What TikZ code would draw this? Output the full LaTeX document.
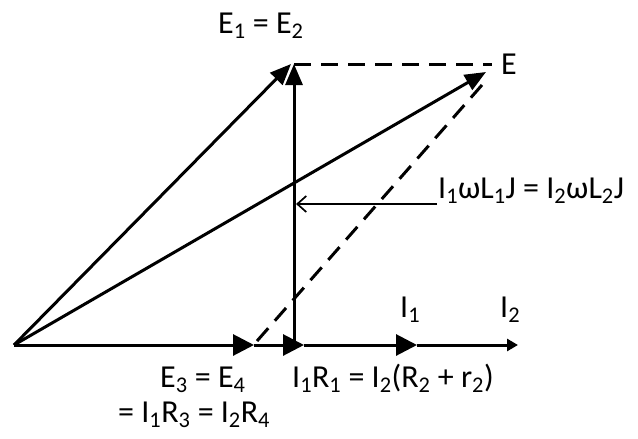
\documentclass[tikz,border=0pt]{standalone}
\usepackage{fontspec}
\setmainfont{Carlito}
\usetikzlibrary{arrows.meta}
\newcommand{\sbs}[1]{\textsubscript{#1}}
\begin{document}
\begin{tikzpicture}[x=1pt,y=-1pt,
  vec/.style={line width=3pt,-{Triangle[length=21pt,width=17pt]}},
  axseg/.style={line width=3pt,-{Triangle[length=21pt,width=21pt]}},
  dashln/.style={line width=3pt,dash pattern=on 17pt off 10pt},
  thin/.style={line width=1.7pt},
  lbl/.style={inner sep=0pt,font=\fontsize{32}{36}\selectfont}]
\useasboundingbox (0,0) rectangle (638,439);
\coordinate (O) at (14,345);
\coordinate (A) at (254,345);
\coordinate (B) at (304,345);
\coordinate (C) at (417,345);
\coordinate (D) at (518,345);
\coordinate (V0) at (294,345);
\coordinate (V1) at (294,64);
\coordinate (P) at (291,64);
\coordinate (Q) at (492,64);
\coordinate (Et) at (486,72);
\coordinate (Ds) at (257,341);
\coordinate (De) at (482,85);
\coordinate (Hs) at (437,204);
\coordinate (He) at (296,204);
% axis
\draw[axseg] (O) -- (A);
\draw[axseg] (A) -- (B);
\draw[axseg] (B) -- (C);
\draw[line width=3pt,-{Triangle[length=11pt,width=12pt]}] (C) -- (D);
% vertical
\draw[vec] (V0) -- (V1);
% E1 = E2 phasor
\draw[vec] (O) -- (P);
% E phasor
\draw[vec] (O) -- (Et);
% dashed
\draw[dashln] (V1) -- (Q);
\draw[dashln] (Ds) -- (De);
% reactance arrow
\draw[thin,-{Straight Barb[length=9pt,width=16pt,line width=1.7pt]}] (Hs) -- (He);
% labels
\node[lbl,anchor=base west] (l1) at (218,33) {E\sbs{1} = E\sbs{2}};
\node[lbl,anchor=base west] (l2) at (501,74) {E};
\node[lbl,anchor=base west] (l3) at (438,198) {I\sbs{1}ωL\sbs{1}J = I\sbs{2}ωL\sbs{2}J};
\node[lbl,anchor=base west] (l4) at (160,387) {E\sbs{3} = E\sbs{4}};
\node[lbl,anchor=base west] (l5) at (118,422) {= I\sbs{1}R\sbs{3} = I\sbs{2}R\sbs{4}};
\node[lbl,anchor=base west] (l6) at (292,387) {I\sbs{1}R\sbs{1} = I\sbs{2}(R\sbs{2} + r\sbs{2})};
\node[lbl,anchor=base west] (l7) at (400,317) {I\sbs{1}};
\node[lbl,anchor=base west] (l8) at (500,317) {I\sbs{2}};
\end{tikzpicture}
\end{document}
